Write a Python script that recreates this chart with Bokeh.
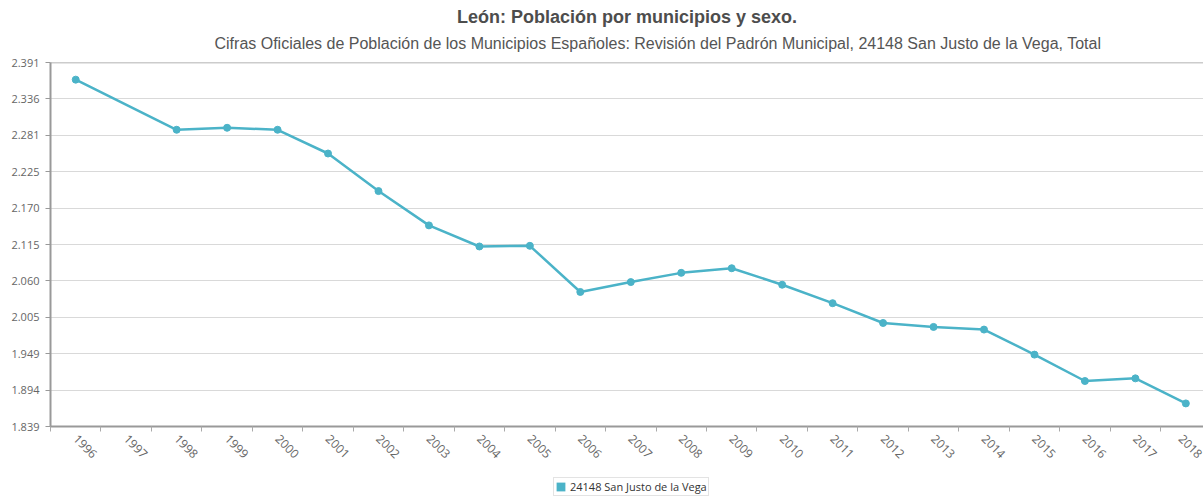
import math
from bokeh.plotting import figure
from bokeh.layouts import column
from bokeh.models import FixedTicker, Title, Legend, LegendItem, Span, ColumnDataSource
from bokeh.embed import file_html
from bokeh.resources import INLINE

# ---- data ----
years = [str(y) for y in range(1996, 2019)]
population = [2365, None, 2289, 2292, 2289, 2253, 2196, 2144, 2112, 2113,
              2043, 2058, 2072, 2079, 2054, 2026, 1996, 1990, 1986, 1948,
              1908, 1912, 1874]
y_tick_values = [1839.0, 1894.2, 1949.4, 2004.6, 2059.8, 2115.0, 2170.2,
                 2225.4, 2280.6, 2335.8, 2391.0]
y_tick_labels = ["1.839", "1.894", "1.949", "2.005", "2.060", "2.115",
                 "2.170", "2.225", "2.281", "2.336", "2.391"]
series_name = "24148 San Justo de la Vega"
title_text = "León: Población por municipios y sexo."
subtitle_text = ("Cifras Oficiales de Población de los Municipios Españoles: "
                 "Revisión del Padrón Municipal, 24148 San Justo de la Vega, Total")

COLOR = "#4BB3C8"
FONT = "Open Sans"

idx = [i for i, v in enumerate(population) if v is not None]
src = ColumnDataSource(dict(x=idx, y=[population[i] for i in idx]))

p = figure(width=1203, height=476, title=None,
           x_range=(-0.5, len(years) - 0.65), y_range=(y_tick_values[0], y_tick_values[-1]),
           output_backend="svg", toolbar_location=None,
           min_border_left=50, min_border_right=0, min_border_top=62, min_border_bottom=50)

p.add_layout(Title(text=subtitle_text, text_font="Liberation Sans", text_font_size="16px",
                   text_font_style="normal", text_color="#555555", align="left",
                   offset=164, standoff=21), "above")
p.add_layout(Title(text=title_text, text_font="Liberation Sans", text_font_size="18px",
                   text_font_style="bold", text_color="#4d4d4d", align="center",
                   standoff=-9), "above")

# axes
p.xaxis.ticker = FixedTicker(ticks=list(range(len(years))),
                             minor_ticks=[i + 0.5 for i in range(-1, len(years))])
p.xaxis.major_label_overrides = {i: y for i, y in enumerate(years)}
p.xaxis.major_label_orientation = -math.pi / 4
p.xaxis.major_tick_line_color = None
p.xaxis.major_tick_out = 0
p.xaxis.minor_tick_out = 5
p.xaxis.minor_tick_in = 0
p.xaxis.minor_tick_line_color = "#aaaaaa"
p.xaxis.axis_line_color = "#999999"
p.xaxis.axis_line_width = 2
p.xaxis.major_label_text_font = FONT
p.xaxis.major_label_text_font_size = "12px"
p.xaxis.major_label_text_color = "#666666"
p.xaxis.major_label_standoff = 5

p.yaxis.ticker = FixedTicker(ticks=y_tick_values)
p.yaxis.major_label_overrides = {v: l for v, l in zip(y_tick_values, y_tick_labels)}
p.yaxis.minor_tick_line_color = None
p.yaxis.major_tick_out = 5
p.yaxis.major_tick_in = 0
p.yaxis.major_tick_line_color = "#999999"
p.yaxis.axis_line_color = "#999999"
p.yaxis.axis_line_width = 2
p.yaxis.major_label_text_font = FONT
p.yaxis.major_label_text_font_size = "11px"
p.yaxis.major_label_text_color = "#666666"
p.yaxis.major_label_standoff = 6

p.xgrid.grid_line_color = None
p.ygrid.ticker = FixedTicker(ticks=y_tick_values)
p.ygrid.grid_line_color = "#d9d9d9"
p.outline_line_color = None
p.add_layout(Span(location=y_tick_values[-1], dimension="width",
                  line_color="#999999", line_width=1.5))

p.line("x", "y", source=src, line_color=COLOR, line_width=2.5)
p.scatter("x", "y", source=src, size=7, color=COLOR)

# legend strip below the chart
pl = figure(width=1203, height=21, title=None, output_backend="svg", toolbar_location=None,
            x_axis_location=None, y_axis_location=None,
            min_border_left=0, min_border_right=0, min_border_top=0, min_border_bottom=0)
pl.xgrid.grid_line_color = None
pl.ygrid.grid_line_color = None
pl.outline_line_color = None
sq = pl.quad(left="x", right="x", top="y", bottom="y", source=src,
             fill_color=COLOR, line_color=None)
legend = Legend(items=[LegendItem(label=series_name, renderers=[sq])],
                location=(503, 1), orientation="horizontal",
                label_text_font=FONT, label_text_font_size="11px", label_text_color="#333333",
                border_line_color="#c8c8c8", border_line_width=1,
                glyph_width=11, glyph_height=11, padding=1, margin=0, spacing=0,
                label_standoff=4, label_height=12)
pl.add_layout(legend, "center")

layout = column(p, pl, spacing=0)
open("out.html", "w").write(file_html(layout, INLINE))
